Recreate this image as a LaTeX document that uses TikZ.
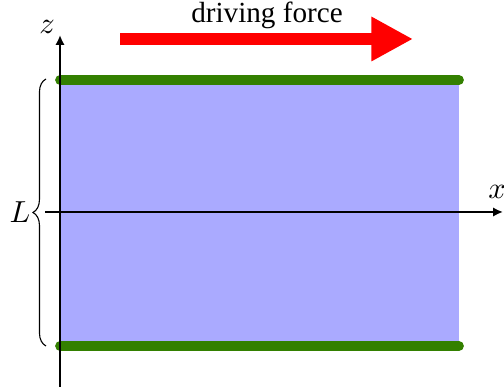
\documentclass[tikz,border=0pt]{standalone}
\usepackage{fontspec}
\setmainfont{Liberation Serif}
\usetikzlibrary{arrows.meta,decorations.pathreplacing}
\definecolor{flaeche}{HTML}{AAAAFF}
\definecolor{platte}{HTML}{338000}
\definecolor{kraft}{HTML}{FF0000}
\tikzset{
  ax/.style={-{Latex[length=3.6pt,width=3.4pt]},black,line width=0.85pt},
  plattel/.style={platte,line width=3.5pt,line cap=round},
  kraftpfeil/.style={-{Triangle[length=15pt,width=15pt]},kraft,line width=4pt},
  klammer/.style={decorate,decoration={brace,amplitude=4.7pt},line width=0.4pt},
  lbl/.style={font=\fontsize{10.5pt}{12pt}\selectfont,inner sep=0pt},
}

\begin{document}
\begin{tikzpicture}[x=0.36pt,y=-0.36pt]
  \useasboundingbox (0,0) rectangle (504,391);
  \fill[flaeche] (60,80) rectangle (459,346);
  \draw[plattel] (60,80)--(459,80);
  \draw[plattel] (60,346)--(459,346);
  % axes
  \coordinate (z0) at (60,387);
  \coordinate (z1) at (60,35);
  \coordinate (x0) at (45,212);
  \coordinate (x1) at (503,212);
  \draw[ax] (z0)--(z1);
  \draw[ax] (x0)--(x1);
  \node[lbl] (zl) at (47,27) {$z$};
  \node[lbl] (xl) at (497,192) {$x$};
  % brace
  \coordinate (bu) at (46,346);
  \coordinate (bo) at (46,79);
  \draw[klammer] (bu)--(bo);
  \node[lbl] (ll) at (20,212) {$L$};
  % force
  \coordinate (kl) at (120,39);
  \coordinate (kr) at (413,39);
  \draw[kraftpfeil] (kl)--(kr);
  \node[lbl] (kt) at (267,15) {driving force};
\end{tikzpicture}
\end{document}
